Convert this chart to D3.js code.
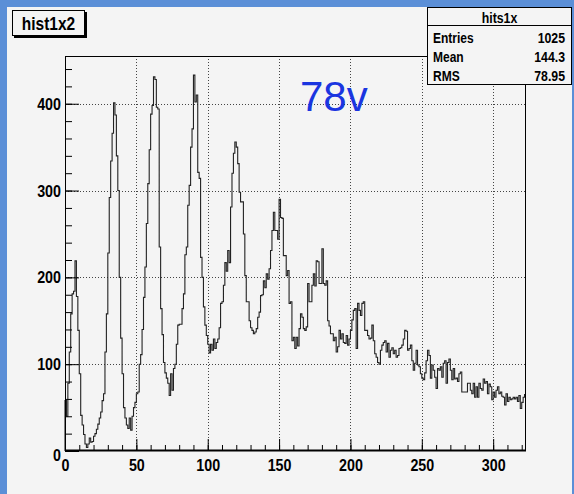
<!DOCTYPE html>
<html><head><meta charset="utf-8">
<script src="https://cdn.jsdelivr.net/npm/d3@7"></script>
<style>body{margin:0;background:#5b8fd7;overflow:hidden} svg{display:block}</style>
</head><body><svg id="c" width="574" height="494"></svg>
<script>
// ---- data ----
const histName = "hist1x2";
const statsTitle = "hits1x";
const statsLabels = ["Entries", "Mean", "RMS"];
const statsValues = ["1025", "144.3", "78.95"];
const note = "78v";
const xTickLabels = [0, 50, 100, 150, 200, 250, 300];
const yTickLabels = [0, 100, 200, 300, 400];
const counts = [
  58,40,78,114,158,181,184,219,178,139,
  89,41,30,19,8,4,8,15,10,11,
  17,20,25,31,38,45,58,66,114,158,
  228,292,334,366,401,387,340,300,200,130,
  89,50,38,30,26,38,24,40,50,56,
  66,68,100,111,140,177,212,262,308,347,
  388,398,431,428,396,394,235,164,134,102,
  90,84,78,64,89,70,95,100,123,145,
  146,146,164,181,226,235,283,306,350,371,
  433,402,410,321,314,223,200,166,145,133,
  123,113,123,116,129,118,125,129,142,170,
  172,191,217,207,231,217,281,320,343,356,
  350,331,298,287,287,250,202,172,172,150,
  142,139,135,137,141,154,160,179,180,196,
  188,204,198,210,231,254,275,254,254,244,
  290,269,268,225,225,202,208,170,172,127,
  131,118,131,121,141,158,154,141,139,143,
  193,172,172,191,204,190,219,218,193,193,
  233,193,191,196,150,144,135,135,127,131,
  114,120,139,129,135,125,124,133,122,129,
  139,151,162,164,118,170,162,156,170,172,
  139,139,133,129,130,145,127,112,108,102,
  100,116,122,125,127,114,124,108,116,119,
  112,116,108,110,118,119,122,129,139,138,
  116,118,122,104,93,101,116,99,97,89,
  84,82,90,104,116,110,84,99,93,85,
  72,95,93,97,85,101,104,78,102,106,
  93,82,95,83,84,80,89,91,68,68,
  68,68,78,78,70,66,78,62,74,62,
  78,72,70,83,78,80,66,77,74,59,
  68,62,70,74,66,68,63,62,53,66,
  57,62,59,60,62,60,62,57,64,49,
  56,62,65
];
const xMax = counts.length;   // bins of width 1
const yMax = 455;

// ---- layout ----
const svg = d3.select("#c");
const FONT = "'Liberation Sans', Arial, Helvetica, sans-serif";
const L = 65, R = 526, T = 56, B = 451;

function condense(sel, r) {
  sel.each(function () {
    const len = this.getComputedTextLength();
    d3.select(this).attr("textLength", len * r).attr("lengthAdjust", "spacingAndGlyphs");
  });
}

// canvas
svg.append("rect").attr("x", 7).attr("y", 7).attr("width", 565).attr("height", 487).attr("fill", "#f4f4f4");

const x = d3.scaleLinear().domain([0, xMax]).range([L, R]);
const y = d3.scaleLinear().domain([0, yMax]).range([B, T]);

// frame fill
svg.append("rect").attr("x", L).attr("y", T).attr("width", R - L).attr("height", B - T).attr("fill", "#f4f4f4");

// grid
const grid = svg.append("g").attr("stroke", "#444").attr("stroke-width", 1).attr("stroke-dasharray", "1,2");
grid.selectAll("line.gx").data(xTickLabels.filter(d => d > 0)).join("line")
  .attr("x1", d => Math.round(x(d)) + 0.5).attr("x2", d => Math.round(x(d)) + 0.5)
  .attr("y1", T).attr("y2", B);
grid.selectAll("line.gy").data(yTickLabels.filter(d => d > 0)).join("line")
  .attr("y1", d => Math.round(y(d)) + 0.5).attr("y2", d => Math.round(y(d)) + 0.5)
  .attr("x1", L).attr("x2", R);

// histogram
const pts = counts.map((v, i) => [i, v]);
pts.push([xMax, counts[xMax - 1]]);
const line = d3.line().x(d => x(d[0])).y(d => y(d[1])).curve(d3.curveStepAfter);
svg.append("path").attr("d", "M" + x(0) + "," + y(0) + "L" + line(pts).slice(1))
  .attr("fill", "none").attr("stroke", "#222").attr("stroke-width", 1.1);

// axes
const xAxis = svg.append("g").attr("transform", `translate(0,${B})`)
  .call(d3.axisBottom(x).tickValues(d3.range(0, xMax + 1, 10)).tickSize(-6).tickFormat(""));
xAxis.call(g => g.select(".domain").remove());
const xAxisMaj = svg.append("g").attr("transform", `translate(0,${B})`)
  .call(d3.axisBottom(x).tickValues(xTickLabels).tickSize(-12).tickPadding(8).tickFormat(d3.format("d")));
xAxisMaj.select(".domain").remove();
xAxisMaj.selectAll("text").attr("font-family", FONT).attr("font-weight", "bold").attr("font-size", 17).attr("fill", "#000");

const yAxis = svg.append("g").attr("transform", `translate(${L},0)`)
  .call(d3.axisLeft(y).tickValues(d3.range(0, yMax, 20)).tickSize(-7).tickFormat(""));
yAxis.select(".domain").remove();
const yAxisMaj = svg.append("g").attr("transform", `translate(${L},0)`)
  .call(d3.axisLeft(y).tickValues(yTickLabels).tickSize(-14).tickPadding(4).tickFormat(d3.format("d")));
yAxisMaj.select(".domain").remove();
yAxisMaj.selectAll("text").attr("font-family", FONT).attr("font-weight", "bold").attr("font-size", 17).attr("fill", "#000");
yAxisMaj.selectAll(".tick").filter(d => d === 0).select("text").attr("dy", "0.55em");
svg.selectAll(".tick line").attr("stroke", "#000");

// frame
svg.append("rect").attr("x", L + 0.5).attr("y", T + 0.5).attr("width", R - L - 1).attr("height", B - T - 1)
  .attr("fill", "none").attr("stroke", "#000");
svg.append("line").attr("x1", L).attr("x2", R).attr("y1", B - 0.5).attr("y2", B - 0.5).attr("stroke", "#000").attr("stroke-width", 2);

condense(xAxisMaj.selectAll("text"), 0.84);
condense(yAxisMaj.selectAll("text"), 0.84);

// note text
svg.append("text").attr("x", 300).attr("y", 111).text(note)
  .attr("font-family", FONT).attr("font-size", 42).attr("fill", "#1a35e0");

// title box
svg.append("rect").attr("x", 14).attr("y", 12).attr("width", 73).attr("height", 26).attr("fill", "#000");
svg.append("rect").attr("x", 12.5).attr("y", 10.5).attr("width", 72).attr("height", 25).attr("fill", "#f4f4f4").attr("stroke", "#000");
const tt = svg.append("text").attr("x", 48.5).attr("y", 30).attr("text-anchor", "middle").text(histName)
  .attr("font-family", FONT).attr("font-weight", "bold").attr("font-size", 18);
condense(tt, 0.86);

// stats box
const sb = svg.append("g");
sb.append("rect").attr("x", 427.5).attr("y", 7.5).attr("width", 144).attr("height", 77).attr("fill", "#f4f4f4").attr("stroke", "#000");
sb.append("line").attr("x1", 427.5).attr("x2", 571.5).attr("y1", 25.5).attr("y2", 25.5).attr("stroke", "#000");
const st = sb.append("text").attr("x", 499.5).attr("y", 22.5).attr("text-anchor", "middle").text(statsTitle)
  .attr("font-family", FONT).attr("font-weight", "bold").attr("font-size", 15);
condense(st, 0.82);
const rows = sb.selectAll("g.row").data(statsLabels).join("g");
const lab = rows.append("text").attr("x", 433).attr("y", (d, i) => 43 + i * 19).text(d => d)
  .attr("font-family", FONT).attr("font-weight", "bold").attr("font-size", 15);
const val = rows.append("text").attr("x", 565).attr("y", (d, i) => 43 + i * 19).attr("text-anchor", "end")
  .text((d, i) => statsValues[i])
  .attr("font-family", FONT).attr("font-weight", "bold").attr("font-size", 15);
condense(lab, 0.8);
condense(val, 0.82);
</script></body></html>
